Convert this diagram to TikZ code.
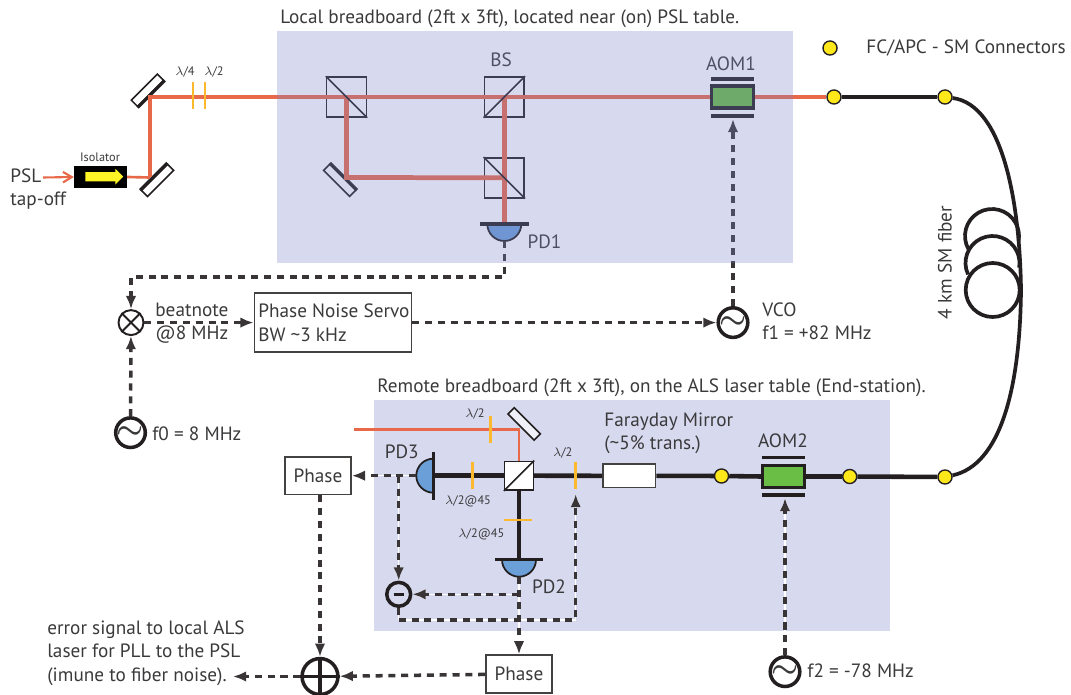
\documentclass[tikz,border=0pt]{standalone}
\usepackage{fontspec}
\setmainfont{PT Sans}
\usetikzlibrary{calc,arrows.meta,shapes.arrows}
\definecolor{beamc}{HTML}{E8694A}
\definecolor{wavec}{HTML}{FDB92E}
\definecolor{boardc}{RGB}{121,131,198}
\definecolor{remotec}{HTML}{D7DAEE}
\definecolor{domec}{HTML}{6B9FD8}
\definecolor{aomc}{HTML}{6ABD45}
\definecolor{connc}{HTML}{FFE81A}
\definecolor{inkc}{HTML}{231F20}
\definecolor{textc}{HTML}{3A3A3C}

\begin{document}
\begin{tikzpicture}[x=0.02cm,y=0.02cm]
\tikzstyle{every node}=[inner sep=0pt,text=textc,font=\fontsize{10.95}{13.3}\selectfont]
\tikzstyle{tiny}=[font=\fontsize{7}{8}\selectfont]
\tikzstyle{lbl}=[anchor=west,align=left]
\tikzstyle{beam}=[draw=beamc,line width=2.7pt]
\tikzstyle{fiber}=[draw=inkc,line width=2.6pt]
\tikzstyle{coil}=[draw=inkc,line width=2.1pt]
\tikzstyle{sig}=[draw=inkc!90,line width=2pt,dash pattern=on 4pt off 3.3pt,-{Latex[length=7.5pt,width=6pt]}]
\tikzstyle{sigw}=[sig,preaction={draw=white,line width=0.7pt,solid}]
\tikzstyle{cube}=[draw=inkc,line width=0.9pt,minimum size=22.7pt]
\tikzstyle{mirror}=[draw=inkc,fill=white,line width=0.9pt,minimum width=21pt,minimum height=5pt]
\tikzstyle{plate}=[fill=wavec,minimum width=1.7pt,minimum height=15.5pt]
\tikzstyle{dome}=[draw=inkc,fill=domec,line width=1pt]
\tikzstyle{flat}=[draw=inkc,line width=1.9pt]
\tikzstyle{aom}=[draw=inkc,fill=aomc,line width=1.8pt,minimum width=23.8pt,minimum height=12.5pt]
\tikzstyle{conn}=[circle,draw=inkc,fill=connc,line width=0.8pt,minimum size=8pt]
\tikzstyle{osc}=[circle,draw=inkc,line width=2pt,minimum size=15.5pt,font=\LARGE\boldmath]
\tikzstyle{pbox}=[draw=inkc!85,line width=0.9pt,fill=white]
\useasboundingbox (0,0) rectangle (1071,-695);

\node [anchor=west] (ltitle) at (280,-19) {Local breadboard (2ft x 3ft), located near (on) PSL table.};
\node [anchor=west] (rtitle) at (377,-388) {Remote breadboard (2ft x 3ft), on the ALS laser table (End-station).};
\node [conn] (ckey) at (830,-48) {};
\node [lbl] (lkey) at (866,-48) {FC/APC - SM Connectors};

\node [lbl] (lpsl) at (10,-189) {PSL\\tap-off};
\coordinate (psl) at (43,-177.5);
\node [fill=black,minimum width=30pt,minimum height=12pt] (iso) at (100.5,-177) {};
\node [single arrow,fill=yellow!85!white,inner ysep=2.45pt,minimum height=21.5pt,single arrow head extend=1.8pt] (isoa) at (102,-176.7) {};
\node [tiny] (liso) at (100,-157) {Isolator};
\draw [draw=beamc,line width=1.2pt,-{Straight Barb[length=5pt,width=6pt]}] (psl) -- (iso.west);

\node [mirror,rotate=45] (m1) at (147.5,-90.3) {};
\node [mirror,rotate=45] (m2) at (157.5,-180.4) {};
\node [mirror,rotate=-45] (m3) at (339.7,-180.3) {};
\draw [flat] (m1.south west) -- (m1.south east);
\draw [flat] (m2.north west) -- (m2.north east);
\draw [flat] (m3.north west) -- (m3.north east);
\coordinate (t1) at (150,-97);
\coordinate (t2) at (150,-177.5);
\coordinate (t3) at (346.5,-177.5);

\node [cube] (bs1) at (346.5,-97) {};
\node [cube] (bs2) at (504.3,-97) {};
\node [cube] (bs3) at (504.3,-177.8) {};
\node [aom] (aom1) at (732.8,-97) {};
\node [conn] (c1) at (834,-97) {};
\node [conn] (c2) at (945,-97) {};
\coordinate (pd1) at (504.3,-224);
\coordinate (pd1b) at (504.3,-241);
\draw [beam,line width=1.5pt] (iso.east) -- (t2);
\draw [beam] (t2) -- (t1) -- (bs1.center) -- (aom1.west);
\draw [beam] (aom1.east) -- (c1);
\draw [beam] (bs1.center) -- (t3) -- (bs3.center);
\draw [beam] (bs2.center) -- (pd1);
\draw [draw=inkc,line width=0.9pt] (bs1.north west) -- (bs1.south east);
\draw [draw=inkc,line width=0.9pt] (bs2.south west) -- (bs2.north east);
\draw [draw=inkc,line width=0.9pt] (bs3.north west) -- (bs3.south east);
\draw [dome] ($(pd1)+(-17,0)$) arc[start angle=180,end angle=360,radius=17] -- cycle;
\draw [flat] ($(pd1)+(-24.5,0)$) -- ($(pd1)+(24.5,0)$);
\draw [flat] ($(aom1)+(-21.5,18)$) -- ($(aom1)+(21.5,18)$);
\draw [flat] ($(aom1)+(-21.5,-19)$) -- ($(aom1)+(21.5,-19)$);
\node (lbs) at (501,-60) {BS};
\node (laom1) at (731,-64) {AOM1};
\node (lpd1) at (544.5,-242) {PD1};
\node [plate] (w1) at (193,-95.5) {};
\node [plate] (w2) at (205,-95.5) {};
\node [tiny] (lw1) at (185,-72) {$\lambda$/4};
\node [tiny] (lw2) at (214,-72) {$\lambda$/2};

\node [circle,draw=inkc,line width=1.1pt,minimum size=14.2pt] (mix) at (131,-322.6) {};
\draw [draw=inkc,line width=1.1pt] (mix.north west) -- (mix.south east);
\draw [draw=inkc,line width=1.1pt] (mix.south west) -- (mix.north east);
\node [osc] (f0) at (130.5,-432.7) {$\sim$};
\node [osc] (vco) at (733,-322.6) {$\sim$};
\node [draw=inkc!85,line width=0.9pt,minimum width=89.5pt,minimum height=33.5pt] (servo) at (333,-322.6) {};
\node [lbl] (lservo) at (258,-322.6) {Phase Noise Servo\\BW \textasciitilde3 kHz};
\node [lbl] (lbeat) at (155,-323) {beatnote\\@8 MHz};
\node [lbl] (lf0) at (152,-434) {f0 = 8 MHz};
\node [lbl] (lvco) at (762,-321.5) {VCO\\f1 = +82 MHz};
\coordinate (turn) at (131,-277);
\coordinate (aom1in) at (733,-119);
\draw [sig] (pd1b) |- (turn) -- (mix);
\draw [sig] (f0) -- (mix);
\draw [sig] (mix) -- (servo.west);
\draw [sig] (servo.east) -- (vco);
\draw [sig] (vco) -- (aom1in);

\node [draw=none,fill=boardc,fill opacity=0.3,minimum width=293.7pt,minimum height=131.5pt] (local) at (535,-147) {};
\node [fill=remotec,minimum width=293.7pt,minimum height=131pt] (remote) at (632,-515.5) {};

\node [cube,fill=white,minimum size=16.4pt] (bs4) at (519,-475.7) {};
\draw [draw=inkc,line width=0.9pt] (bs4.south west) -- (bs4.north east);
\node [mirror,rotate=-45,fill=remotec!40] (m4) at (524.2,-424) {};
\node [pbox,minimum width=30pt,minimum height=13.4pt] (far) at (629.3,-475.8) {};
\node [aom] (aom2) at (783.3,-476.5) {};
\node [conn] (c3) at (721.5,-476) {};
\node [conn] (c4) at (849.7,-476.5) {};
\node [conn] (c5) at (945,-477) {};
\coordinate (pd3) at (433.3,-475.7);
\coordinate (pd3b) at (416.3,-475.7);
\coordinate (pd2) at (519,-559.7);
\coordinate (pd2b) at (519,-576.7);
\coordinate (red) at (354,-429.3);
\coordinate (t4) at (519,-429.3);
\draw [beam,line width=1.5pt] (red) -- (t4) -- (bs4.north);
\draw [fiber] (pd3) -- (bs4.west);
\draw [fiber] (bs4.east) -- (far.west);
\draw [fiber] (far.east) -- (c3);
\draw [fiber] (c3) -- (aom2.west);
\draw [fiber] (aom2.east) -- (c4);
\draw [fiber] (c4) -- (c5);
\draw [fiber] (bs4.south) -- (pd2);
\draw [fiber] (c1) -- (c2);
\draw [coil] (c2) .. controls (1005,-105) and (1020,-210) .. (1021,-290) .. controls (1020,-390) and (1000,-465) .. (c5);
\coordinate (coil1) at (992,-236);
\coordinate (coil2) at (992.5,-263);
\coordinate (coil3) at (992.7,-290);
\draw [coil] (coil1) ++(210:27) arc[start angle=210,end angle=-10,radius=27];
\draw [coil] (coil2) ++(205:27) arc[start angle=205,end angle=-10,radius=27];
\draw [coil] (coil3) circle[radius=27];
\node [rotate=90] (lfib) at (945,-262.5) {4 km SM fiber};
\draw [dome] ($(pd3)+(0,17)$) arc[start angle=90,end angle=270,radius=17] -- cycle;
\draw [flat] ($(pd3)+(0,24)$) -- ($(pd3)+(0,-24)$);
\draw [dome] ($(pd2)+(-17,0)$) arc[start angle=180,end angle=360,radius=17] -- cycle;
\draw [flat] ($(pd2)+(-24,0)$) -- ($(pd2)+(24,0)$);
\draw [flat] ($(aom2)+(-21.5,18.8)$) -- ($(aom2)+(21.5,18.8)$);
\draw [flat] ($(aom2)+(-21.5,-18.5)$) -- ($(aom2)+(21.5,-18.5)$);
\node [plate,minimum height=15pt] (w3) at (490,-429.5) {};
\node [plate,minimum height=15pt] (w4) at (472.3,-475.5) {};
\node [plate,minimum height=15pt] (w5) at (575.7,-475.5) {};
\node [plate,minimum width=16pt,minimum height=1.7pt] (w6) at (518,-520) {};
\node [tiny] (lw3) at (475,-413.5) {$\lambda$/2};
\node [tiny] (lw4) at (468,-501.7) {$\lambda$/2@45};
\node [tiny] (lw5) at (562.7,-453) {$\lambda$/2};
\node [tiny] (lw6) at (481.3,-534.7) {$\lambda$/2@45};
\node (lpd3) at (401.7,-452.3) {PD3};
\node (lpd2) at (549,-587) {PD2};
\node (laom2) at (783,-441) {AOM2};
\node [lbl] (lfar) at (604,-433) {Farayday Mirror\\(\textasciitilde5\% trans.)};

\node [circle,draw=inkc,line width=2pt,minimum size=13.6pt] (minus) at (398.7,-594.3) {};
\draw [draw=inkc,line width=1.6pt] ($(minus)+(-5,0)$) -- ($(minus)+(5,0)$);
\node [pbox,minimum width=37.6pt,minimum height=21.5pt] (ph1) at (318,-475.7) {Phase};
\node [pbox,minimum width=37.6pt,minimum height=21.5pt] (ph2) at (519,-674) {Phase};
\node [circle,draw=inkc,line width=2pt,minimum size=20.4pt] (sum) at (320,-676.5) {};
\draw [draw=inkc,line width=1.9pt] (sum.north) -- (sum.south);
\draw [draw=inkc,line width=1.9pt] (sum.west) -- (sum.east);
\node [osc] (f2) at (785,-671.7) {$\sim$};
\node [lbl] (lf2) at (807,-671) {f2 = -78 MHz};
\node [lbl] (lerr) at (47,-653) {error signal to local ALS\\laser for PLL to the PSL\\(imune to fiber noise).};
\coordinate (br3) at (398.7,-475.7);
\coordinate (br2) at (519,-594.3);
\coordinate (loopa) at (398.7,-620);
\coordinate (w5in) at (575.7,-494);
\coordinate (aom2in) at (785,-498);
\coordinate (errout) at (233,-676.5);
\draw [sigw] (pd3b) -- (ph1);
\draw [sigw] (br3) -- (minus);
\draw [sigw] (pd2b) -- (ph2);
\draw [sigw] (br2) -- (minus);
\draw [sigw,-] (minus) -- (loopa);
\draw [sigw] (loopa) -| (w5in);
\draw [sig] (ph1.south -| sum) -- (sum);
\draw [sig] (ph2) -- (sum);
\draw [sig] (sum) -- (errout);
\draw [sigw] (f2) -- (aom2in);
\end{tikzpicture}
\end{document}
